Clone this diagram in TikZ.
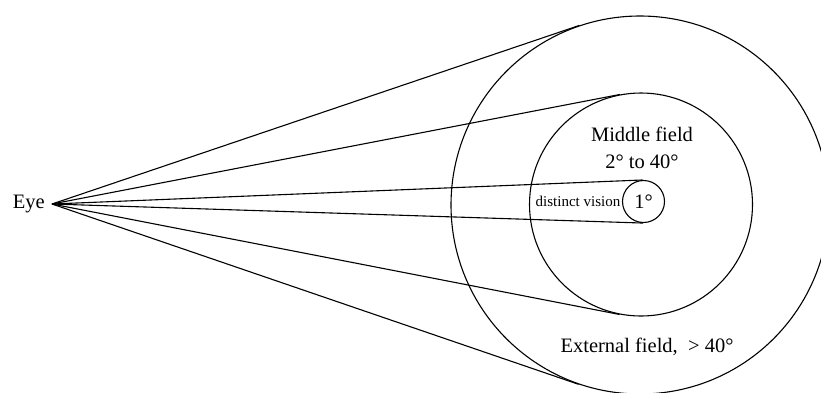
\documentclass[tikz,border=0pt]{standalone}
\usepackage{fontspec}
\setmainfont{Liberation Serif}
\usetikzlibrary{positioning,calc}
\tikzset{
    fieldcircle/.style={draw, circle, inner sep=0pt, line width=1.1pt},
    sightline/.style={line width=1.1pt},
    fieldlabel/.style={align=center, font=\fontsize{20.5}{27}\selectfont}
}

\begin{document}
\begin{tikzpicture}[x=1pt, y=-1pt, node distance=2pt]
\useasboundingbox (0,0) rectangle (821,392);
\coordinate (tip) at (52,204);
\node[fieldlabel, left=7pt of tip, inner sep=0pt] (eye) {Eye};
\node[fieldcircle, minimum size=378pt] (outer) at (640,205) {};
\node[fieldcircle, minimum size=223pt] (middle) at (641,204.5) {};
\node[fieldcircle, minimum size=42pt, fieldlabel] (fovea) at (643.5,201.5) {1°};
\node[left=0pt of fovea, inner sep=1.5pt, font=\fontsize{15}{17}\selectfont] (distinct) {distinct vision};
\node[fieldlabel] (midtext) at (642,148) {Middle field\\2° to 40°};
\node[fieldlabel] (exttext) at (647,347) {External field,\enspace> 40°};
\draw[sightline] (tip) -- (tangent cs:node=outer,point={(tip)},solution=1);
\draw[sightline] (tip) -- (tangent cs:node=outer,point={(tip)},solution=2);
\draw[sightline] (tip) -- (tangent cs:node=middle,point={(tip)},solution=1);
\draw[sightline] (tip) -- (tangent cs:node=middle,point={(tip)},solution=2);
\draw[sightline] (tip) -- (tangent cs:node=fovea,point={(tip)},solution=1);
\draw[sightline] (tip) -- (tangent cs:node=fovea,point={(tip)},solution=2);
\end{tikzpicture}
\end{document}
